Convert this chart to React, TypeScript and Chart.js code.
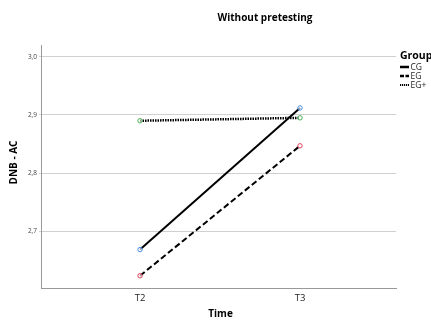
import React, { useEffect, useRef } from "react";
import { Chart, registerables } from "chart.js";

Chart.register(...registerables);

const timeLabels = ["T2", "T3"];
const groupNames = ["CG", "EG", "EG+"];
const cgValues = [2.669, 2.912];
const egValues = [2.624, 2.847];
const egPlusValues = [2.89, 2.895];
const yTicks = [2.7, 2.8, 2.9, 3.0];

const FONT = "'Open Sans', 'Noto Sans', sans-serif";

const overlayPlugin = {
  id: "overlay",
  afterDraw(chart: any) {
    const ctx = chart.ctx;
    const area = chart.chartArea;
    ctx.save();
    // Title
    ctx.fillStyle = "#000";
    ctx.font = `bold 10px ${FONT}`;
    ctx.textAlign = "center";
    ctx.textBaseline = "middle";
    ctx.fillText("Without pretesting", 265, 18);
    // Y title
    ctx.save();
    ctx.translate(14, (area.top + area.bottom) / 2 - 4);
    ctx.rotate(-Math.PI / 2);
    ctx.font = `bold 10px ${FONT}`;
    ctx.fillText("DNB - AC", 0, 0);
    ctx.restore();
    // X title
    ctx.font = `bold 10px ${FONT}`;
    ctx.fillText("Time", (area.left + area.right) / 2 + 2, 314);
    // Legend
    ctx.textAlign = "left";
    ctx.font = `bold 10.5px ${FONT}`;
    ctx.fillText("Group", 400, 56);
    const dashes = [[], [4, 1.5], [1.2, 0.8]];
    const widths = [2.5, 2.5, 2];
    ctx.font = `8.5px ${FONT}`;
    groupNames.forEach((name, i) => {
      const y = 67 + i * 9;
      ctx.beginPath();
      ctx.setLineDash(dashes[i]);
      ctx.lineWidth = widths[i];
      ctx.strokeStyle = "#000";
      ctx.moveTo(400, y);
      ctx.lineTo(409, y);
      ctx.stroke();
      ctx.setLineDash([]);
      ctx.fillStyle = "#222";
      ctx.fillText(name, 410.5, y + 0.5);
    });
    ctx.restore();
  },
};

export default function App() {
  const ref = useRef<HTMLCanvasElement>(null);
  useEffect(() => {
    if (!ref.current) return;
    const mk = (vals: number[]) => vals.map((v, i) => ({ x: i, y: v }));
    const chart = new Chart(ref.current, {
      type: "line",
      data: {
        datasets: [
          {
            label: groupNames[0],
            data: mk(cgValues),
            borderColor: "#000",
            borderWidth: 2,
            pointRadius: 2.2,
            pointBorderWidth: 1,
            pointBorderColor: "#4a8fe0",
            pointBackgroundColor: "rgba(255,255,255,0.6)",
          },
          {
            label: groupNames[1],
            data: mk(egValues),
            borderColor: "#000",
            borderWidth: 2,
            borderDash: [6, 3],
            pointRadius: 2.2,
            pointBorderWidth: 1,
            pointBorderColor: "#e0405a",
            pointBackgroundColor: "rgba(255,255,255,0.6)",
          },
          {
            label: groupNames[2],
            data: mk(egPlusValues),
            borderColor: "#000",
            borderWidth: 2.5,
            borderDash: [1.5, 1],
            pointRadius: 2.2,
            pointBorderWidth: 1,
            pointBorderColor: "#4caf50",
            pointBackgroundColor: "rgba(255,255,255,0.6)",
          },
        ],
      },
      options: {
        animation: false,
        responsive: false,
        layout: { padding: { top: 45, right: 35, left: 0, bottom: 0 } },
        plugins: { legend: { display: false }, title: { display: false }, tooltip: { enabled: false } },
        scales: {
          x: {
            type: "linear",
            min: -0.619,
            max: 1.6,
            afterBuildTicks: (s: any) => {
              s.ticks = timeLabels.map((_, i) => ({ value: i }));
            },
            afterFit: (s: any) => {
              s.height = 32;
            },
            grid: { display: false, drawTicks: false },
            border: { display: true, color: "#999", width: 1 },
            ticks: {
              padding: 5,
              color: "#222",
              font: { family: FONT, size: 9.5 },
              callback: (v: any) => timeLabels[Math.round(Number(v))] ?? "",
            },
          },
          y: {
            type: "linear",
            min: 2.603,
            max: 3.02,
            afterBuildTicks: (s: any) => {
              s.ticks = yTicks.map((v) => ({ value: v }));
            },
            afterFit: (s: any) => {
              s.width = 41;
            },
            grid: { color: "#d0d0d0", lineWidth: 1, tickLength: 2 },
            border: { display: true, color: "#999", width: 1 },
            ticks: {
              padding: 2,
              color: "#444",
              font: { family: FONT, size: 6.5 },
              callback: (v: any) => Number(v).toFixed(1).replace(".", ","),
            },
          },
        },
      },
      plugins: [overlayPlugin],
    } as any);
    return () => chart.destroy();
  }, []);
  return (
    <div style={{ position: "fixed", left: 0, top: 0, width: 431, height: 320, background: "#fff" }}>
      <canvas ref={ref} width={431} height={320} style={{ width: 431, height: 320, display: "block" }} />
    </div>
  );
}
